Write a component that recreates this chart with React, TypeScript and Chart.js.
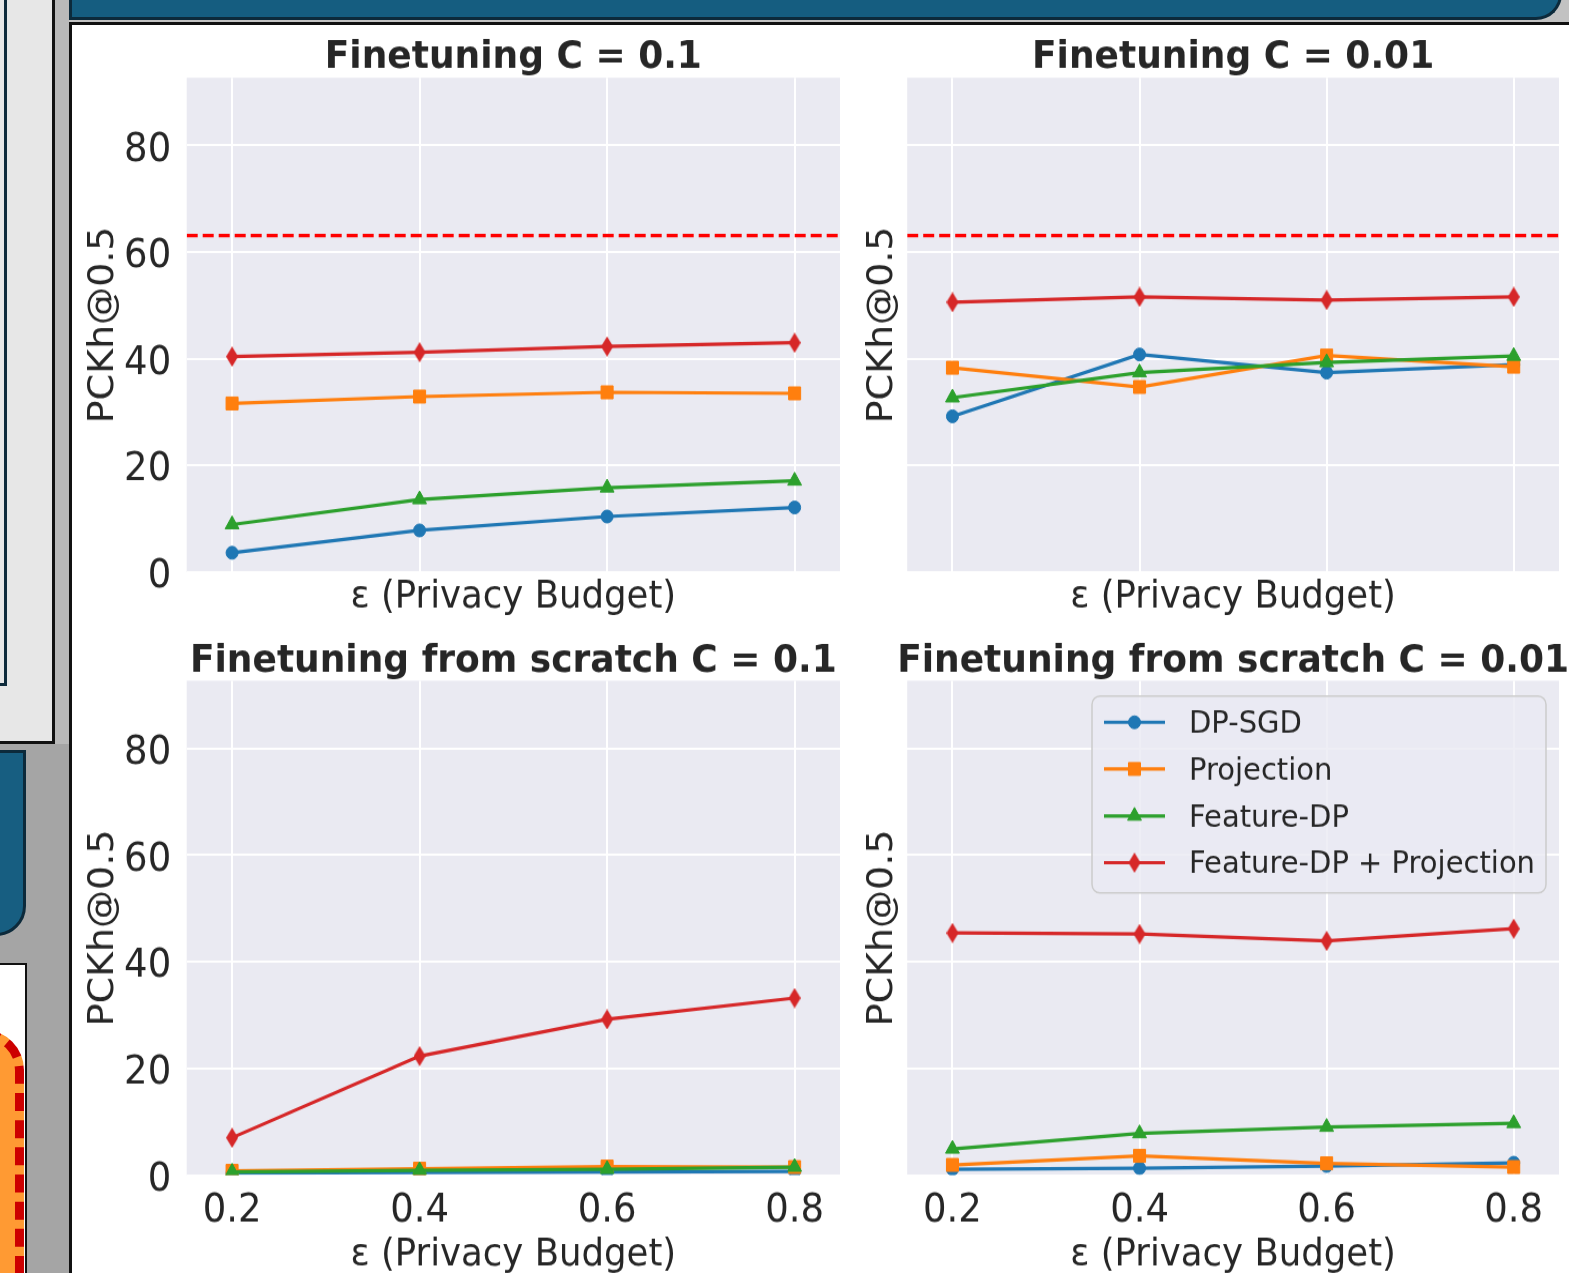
import React, { useEffect, useRef } from "react";
import { Chart, registerables } from "chart.js";

Chart.register(...registerables);

// ---------- data ----------
const epsilonValues = [0.2, 0.4, 0.6, 0.8];
const epsilonTickLabels = ["0.2", "0.4", "0.6", "0.8"];
const pckTicks = [0, 20, 40, 60, 80];
const seriesLabels = ["DP-SGD", "Projection", "Feature-DP", "Feature-DP + Projection"];
const seriesColors = ["#1f77b4", "#ff7f0e", "#2ca02c", "#d62728"];

// Finetuning C = 0.1
const ftC01DpSgd = [3.6, 7.8, 10.4, 12.1];
const ftC01Projection = [31.6, 32.9, 33.7, 33.5];
const ftC01FeatureDp = [8.9, 13.6, 15.8, 17.1];
const ftC01FeatureDpProj = [40.4, 41.2, 42.3, 43.0];

// Finetuning C = 0.01
const ftC001DpSgd = [29.2, 40.8, 37.4, 38.9];
const ftC001Projection = [38.3, 34.7, 40.6, 38.5];
const ftC001FeatureDp = [32.7, 37.4, 39.3, 40.5];
const ftC001FeatureDpProj = [50.6, 51.6, 51.0, 51.6];

// Finetuning from scratch C = 0.1
const scC01DpSgd = [0.4, 0.5, 0.6, 0.7];
const scC01Projection = [0.8, 1.2, 1.6, 1.5];
const scC01FeatureDp = [0.6, 0.9, 1.1, 1.5];
const scC01FeatureDpProj = [7.0, 22.3, 29.2, 33.2];

// Finetuning from scratch C = 0.01
const scC001DpSgd = [1.1, 1.3, 1.7, 2.3];
const scC001Projection = [1.9, 3.6, 2.2, 1.5];
const scC001FeatureDp = [4.9, 7.8, 9.0, 9.7];
const scC001FeatureDpProj = [45.4, 45.2, 43.9, 46.2];

const baselineValue = 63.1;

const panelTitles = [
  "Finetuning C = 0.1",
  "Finetuning C = 0.01",
  "Finetuning from scratch C = 0.1",
  "Finetuning from scratch C = 0.01",
];
const xAxisTitle = "ε (Privacy Budget)";
const yAxisTitle = "PCKh@0.5";

// ---------- style ----------
const X_MIN = 0.1516;
const X_MAX = 0.8484;
const Y_MIN = 0;
const Y_MAX = 92.7;
const FONT = "'DejaVu Sans', sans-serif";
const TEXT = "#262626";
const PLOT_BG = "#EAEAF2";
const TICK_SIZE = 37;
const LABEL_SIZE = 35.5;
const TITLE_SIZE = 36;
const LEGEND_SIZE = 29;
const S = 1.07; // vertical stretch of the figure in the poster
const markerRadii = [6, 8.5, 8, 9];

type PanelSpec = {
  left: number;
  top: number;
  width: number;
  height: number;
  padTop: number;
  padRight: number;
  yWidth: number;
  xHeight: number;
  showYTicks: boolean;
  showXTicks: boolean;
  yTitlePad: number;
  xTitlePad: number;
  titleBaseline: number;
  title: string;
  series: number[][];
  baseline: boolean;
  legend: boolean;
};

const panels: PanelSpec[] = [
  {
    left: 72, top: 25, width: 778, height: 605, padTop: 52.7, padRight: 7.5, yWidth: 114.7, xHeight: 58,
    showYTicks: true, showXTicks: false, yTitlePad: 10, xTitlePad: 10, titleBaseline: 42.7,
    title: panelTitles[0], series: [ftC01DpSgd, ftC01Projection, ftC01FeatureDp, ftC01FeatureDpProj],
    baseline: true, legend: false,
  },
  {
    left: 850, top: 25, width: 719, height: 605, padTop: 52.7, padRight: 6.5, yWidth: 57.2, xHeight: 58,
    showYTicks: false, showXTicks: false, yTitlePad: 11, xTitlePad: 10, titleBaseline: 42.7,
    title: panelTitles[1], series: [ftC001DpSgd, ftC001Projection, ftC001FeatureDp, ftC001FeatureDpProj],
    baseline: true, legend: false,
  },
  {
    left: 72, top: 630, width: 778, height: 660, padTop: 50.7, padRight: 7.5, yWidth: 114.7, xHeight: 115,
    showYTicks: true, showXTicks: true, yTitlePad: 10, xTitlePad: 12, titleBaseline: 41.7,
    title: panelTitles[2], series: [scC01DpSgd, scC01Projection, scC01FeatureDp, scC01FeatureDpProj],
    baseline: false, legend: false,
  },
  {
    left: 850, top: 630, width: 719, height: 660, padTop: 50.7, padRight: 6.5, yWidth: 57.2, xHeight: 115,
    showYTicks: false, showXTicks: true, yTitlePad: 11, xTitlePad: 12, titleBaseline: 41.7,
    title: panelTitles[3], series: [scC001DpSgd, scC001Projection, scC001FeatureDp, scC001FeatureDpProj],
    baseline: false, legend: true,
  },
];

function makeThinDiamond(color: string, w: number, h: number) {
  const c = document.createElement("canvas");
  c.width = w;
  c.height = h;
  const ctx = c.getContext("2d")!;
  ctx.fillStyle = color;
  ctx.beginPath();
  ctx.moveTo(w / 2, 0);
  ctx.lineTo(w, h / 2);
  ctx.lineTo(w / 2, h);
  ctx.lineTo(0, h / 2);
  ctx.closePath();
  ctx.fill();
  return c;
}

function drawMarker(ctx: CanvasRenderingContext2D, style: any, x: number, y: number, r: number, color: string) {
  ctx.save();
  ctx.fillStyle = color;
  ctx.strokeStyle = color;
  ctx.lineWidth = 1;
  ctx.beginPath();
  if (typeof style === "object") {
    ctx.drawImage(style, x - style.width / 2, y - style.height / 2);
    ctx.restore();
    return;
  }
  if (style === "circle") {
    ctx.arc(x, y, r, 0, Math.PI * 2);
  } else if (style === "rect") {
    const s = Math.SQRT1_2 * r;
    ctx.rect(x - s, y - s, 2 * s, 2 * s);
  } else if (style === "triangle") {
    const a = (2 * Math.PI) / 3;
    ctx.moveTo(x, y - r);
    ctx.lineTo(x + Math.sin(a) * r, y - Math.cos(a) * r);
    ctx.lineTo(x + Math.sin(2 * a) * r, y - Math.cos(2 * a) * r);
    ctx.closePath();
  }
  ctx.fill();
  ctx.stroke();
  ctx.restore();
}

function Panel({ spec }: { spec: PanelSpec }) {
  const ref = useRef<HTMLCanvasElement>(null);
  const innerH = Math.round(spec.height / S);
  useEffect(() => {
    const canvas = ref.current;
    if (!canvas) return;
    const diamond = makeThinDiamond(seriesColors[3], 12, Math.round(20 / S));
    const markerStyles: any[] = ["circle", "rect", "triangle", diamond];

    const datasets: any[] = spec.series.map((vals, i) => ({
      label: seriesLabels[i],
      data: epsilonValues.map((x, j) => ({ x, y: vals[j] })),
      borderColor: seriesColors[i],
      backgroundColor: seriesColors[i],
      borderWidth: 3.2,
      pointStyle: markerStyles[i],
      pointRadius: markerRadii[i],
      pointBackgroundColor: seriesColors[i],
      pointBorderColor: seriesColors[i],
      pointBorderWidth: 1,
      tension: 0,
      order: seriesLabels.length - i + 1,
    }));
    if (spec.baseline) {
      datasets.push({
        label: "baseline",
        data: [
          { x: X_MIN, y: baselineValue },
          { x: X_MAX, y: baselineValue },
        ],
        borderColor: "#ff0000",
        borderWidth: 3.2,
        borderDash: [11, 5],
        pointRadius: 0,
        tension: 0,
        order: 0,
      });
    }

    const bgPlugin = {
      id: "plotBg",
      beforeDraw(chart: any) {
        const { ctx, chartArea: a } = chart;
        ctx.save();
        ctx.fillStyle = PLOT_BG;
        ctx.fillRect(a.left, a.top, a.right - a.left, a.bottom - a.top);
        ctx.restore();
      },
    };

    const titlePlugin = {
      id: "panelTitle",
      afterDraw(chart: any) {
        const { ctx, chartArea: a } = chart;
        ctx.save();
        ctx.font = `bold ${TITLE_SIZE}px ${FONT}`;
        ctx.fillStyle = TEXT;
        ctx.textAlign = "center";
        ctx.textBaseline = "alphabetic";
        ctx.fillText(spec.title, (a.left + a.right) / 2, spec.titleBaseline / S);
        ctx.restore();
      },
    };

    const legendPlugin = {
      id: "insideLegend",
      afterDraw(chart: any) {
        if (!spec.legend) return;
        const { ctx, chartArea: a } = chart;
        const boxW = 454;
        const boxH = 197 / S;
        const bx = a.right - 13 - boxW;
        const by = a.top + 15.3 / S;
        ctx.save();
        ctx.beginPath();
        if ((ctx as any).roundRect) (ctx as any).roundRect(bx, by, boxW, boxH, 8);
        else ctx.rect(bx, by, boxW, boxH);
        ctx.fillStyle = "rgba(234,234,242,0.8)";
        ctx.fill();
        ctx.lineWidth = 1.5;
        ctx.strokeStyle = "#cccccc";
        ctx.stroke();
        const rowY = [26.3, 73, 120, 166.7];
        seriesLabels.forEach((label, i) => {
          const y = by + rowY[i] / S;
          ctx.beginPath();
          ctx.strokeStyle = seriesColors[i];
          ctx.lineWidth = 3.2;
          ctx.moveTo(bx + 12, y);
          ctx.lineTo(bx + 73, y);
          ctx.stroke();
          drawMarker(ctx, markerStyles[i], bx + 42.5, y, markerRadii[i], seriesColors[i]);
          ctx.fillStyle = TEXT;
          ctx.font = `${LEGEND_SIZE}px ${FONT}`;
          ctx.textAlign = "left";
          ctx.textBaseline = "middle";
          ctx.fillText(label, bx + 97, y + 2.5 / S);
        });
        ctx.restore();
      },
    };

    const chart = new Chart(canvas, {
      type: "line",
      data: { datasets },
      options: {
        responsive: false,
        maintainAspectRatio: false,
        animation: false,
        events: [],
        layout: { padding: { top: spec.padTop / S, right: spec.padRight, left: 0, bottom: 0 } },
        plugins: {
          legend: { display: false },
          tooltip: { enabled: false },
          title: { display: false },
        },
        scales: {
          x: {
            type: "linear",
            min: X_MIN,
            max: X_MAX,
            afterBuildTicks: (s: any) => {
              s.ticks = epsilonValues.map((v) => ({ value: v }));
            },
            afterFit: (s: any) => {
              s.height = spec.xHeight / S;
            },
            grid: { color: "#ffffff", lineWidth: 2, drawTicks: false },
            border: { display: false },
            ticks: {
              display: spec.showXTicks,
              padding: 13 / S,
              color: TEXT,
              font: { family: FONT, size: TICK_SIZE },
              callback: (v: any) => epsilonTickLabels[epsilonValues.indexOf(Number(v))] ?? "",
            },
            title: {
              display: true,
              text: xAxisTitle,
              color: TEXT,
              font: { family: FONT, size: LABEL_SIZE },
              padding: { top: 0, bottom: spec.xTitlePad / S },
            },
          },
          y: {
            type: "linear",
            min: Y_MIN,
            max: Y_MAX,
            afterBuildTicks: (s: any) => {
              s.ticks = pckTicks.map((v) => ({ value: v }));
            },
            afterFit: (s: any) => {
              s.width = spec.yWidth;
            },
            grid: { color: "#ffffff", lineWidth: 2, drawTicks: false },
            border: { display: false },
            ticks: {
              display: spec.showYTicks,
              padding: 15.5,
              labelOffset: 5 / S,
              color: TEXT,
              font: { family: FONT, size: TICK_SIZE },
              callback: (v: any) => String(v),
            },
            title: {
              display: true,
              text: yAxisTitle,
              color: TEXT,
              font: { family: FONT, size: LABEL_SIZE },
              padding: { top: spec.yTitlePad, bottom: 0 },
            },
          },
        },
      } as any,
      plugins: [bgPlugin, titlePlugin, legendPlugin],
    });
    return () => chart.destroy();
  }, [spec]);

  return (
    <canvas
      ref={ref}
      width={spec.width}
      height={innerH}
      style={{
        position: "absolute",
        left: spec.left,
        top: spec.top,
        width: spec.width,
        height: spec.height,
        display: "block",
      }}
    />
  );
}

const abs = (s: React.CSSProperties): React.CSSProperties => ({ position: "absolute", boxSizing: "border-box", ...s });

export default function App() {
  return (
    <div
      style={{
        position: "fixed",
        left: 0,
        top: 0,
        width: 1569,
        height: 1273,
        overflow: "hidden",
        background: "#a5a5a5",
      }}
    >
      {/* poster surroundings */}
      <div style={abs({ left: 52, top: 0, width: 20, height: 744, background: "#b9b9b9" })} />
      <div style={abs({ left: 69, top: 0, width: 1500, height: 23, background: "#c2c2c2" })} />
      <div
        style={abs({
          left: 0,
          top: 0,
          width: 55,
          height: 744,
          background: "#e7e7e7",
          borderRight: "3px solid #111",
          borderBottom: "3px solid #111",
        })}
      />
      <div
        style={abs({
          left: -20,
          top: -20,
          width: 27,
          height: 706,
          border: "3px solid #0e2a3b",
        })}
      />
      <div
        style={abs({
          left: -30,
          top: 750,
          width: 56,
          height: 186,
          background: "#175e81",
          border: "3px solid #0c2a3b",
          borderBottomRightRadius: 30,
        })}
      />
      <div
        style={abs({
          left: -10,
          top: 963,
          width: 37,
          height: 400,
          background: "#ffffff",
          border: "2px solid #111",
          overflow: "hidden",
        })}
      >
        <div
          style={abs({
            left: -50,
            top: 65,
            width: 82,
            height: 400,
            background: "#ff9a33",
            border: "9px dashed #cc0000",
            borderRadius: 40,
          })}
        />
      </div>
      <div
        style={abs({
          left: 69,
          top: -10,
          width: 1493,
          height: 30,
          background: "#155d80",
          borderLeft: "3px solid #0c2a3b",
          borderBottom: "3px solid #0c2a3b",
          borderRight: "3px solid #0c2a3b",
          borderBottomRightRadius: 26,
        })}
      />
      <div
        style={abs({
          left: 69,
          top: 22,
          width: 1500,
          height: 1251,
          background: "#ffffff",
          borderLeft: "3px solid #111",
          borderTop: "3px solid #111",
        })}
      />
      {panels.map((p, i) => (
        <Panel key={i} spec={p} />
      ))}
    </div>
  );
}
